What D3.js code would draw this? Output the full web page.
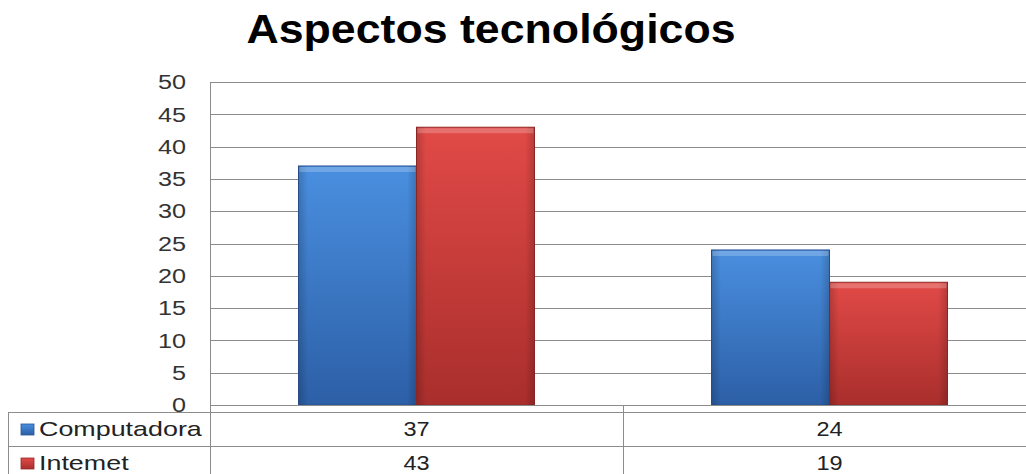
<!DOCTYPE html>
<html>
<head>
<meta charset="utf-8">
<script src="https://cdn.jsdelivr.net/npm/d3@7"></script>
<style>
  body { margin: 0; background: #fff; }
  svg { display: block; font-family: "Liberation Sans", Arial, sans-serif; }
</style>
</head>
<body>
<div class="chart"></div>
<script>
// data
const title = "Aspectos tecnológicos";
const categories = ["A", "B"];
const seriesNames = ["Computadora", "Intemet"];
const computadora = [37, 24];
const internet = [43, 19];
const yTicks = [0, 5, 10, 15, 20, 25, 30, 35, 40, 45, 50];

const seriesValues = [computadora, internet];
const colors = [
  { top: "#4a8fe0", bottom: "#2c5fa6", edge: "#2a5594" },
  { top: "#e14a47", bottom: "#a92e2c", edge: "#962a28" }
];

const width = 1026, height = 474;
const plotLeft = 210, plotRight = 1036, plotTop = 82, plotBottom = 405;
const tableTop = 412, rowH = 34, tableLeft = 8;

const svg = d3.select(".chart").append("svg")
    .attr("width", width)
    .attr("height", height);

// the original picture is a bit stretched sideways, so texts get a horizontal scale
const stretched = (sel, x, y, sx) =>
  sel.attr("x", 0).attr("y", 0).attr("transform", `translate(${x},${y}) scale(${sx},1)`);

const defs = svg.append("defs");
colors.forEach((c, i) => {
  const g = defs.append("linearGradient")
      .attr("id", "grad" + i)
      .attr("x1", 0).attr("y1", 0).attr("x2", 0).attr("y2", 1);
  g.append("stop").attr("offset", "0%").attr("stop-color", c.top);
  g.append("stop").attr("offset", "100%").attr("stop-color", c.bottom);
  const h = defs.append("linearGradient")
      .attr("id", "side" + i)
      .attr("x1", 0).attr("y1", 0).attr("x2", 1).attr("y2", 0);
  h.append("stop").attr("offset", "0%").attr("stop-color", "#000").attr("stop-opacity", 0.18);
  h.append("stop").attr("offset", "8%").attr("stop-color", "#000").attr("stop-opacity", 0);
  h.append("stop").attr("offset", "92%").attr("stop-color", "#000").attr("stop-opacity", 0);
  h.append("stop").attr("offset", "100%").attr("stop-color", "#000").attr("stop-opacity", 0.18);
});

// title
svg.append("text")
    .attr("text-anchor", "middle")
    .style("font-size", "41px")
    .style("font-weight", "bold")
    .style("fill", "#000")
    .text(title)
    .call(stretched, 491, 43, 1.09);

const y = d3.scaleLinear().domain([0, 50]).range([plotBottom, plotTop]);
const x0 = d3.scaleBand().domain(categories).range([plotLeft, plotRight]).padding(0);
const x1 = d3.scaleBand().domain(seriesNames).range([0, x0.bandwidth()])
    .paddingInner(0).paddingOuter(0.75);

// gridlines
svg.append("g")
  .selectAll("line")
  .data(yTicks)
  .join("line")
    .attr("x1", plotLeft).attr("x2", plotRight)
    .attr("y1", d => Math.round(y(d)) + 0.5)
    .attr("y2", d => Math.round(y(d)) + 0.5)
    .attr("stroke", "#8c8c8c")
    .attr("stroke-width", 1);

// y axis labels
const yAxis = d3.axisLeft(y).tickValues(yTicks).tickSize(0).tickPadding(24);
const ya = svg.append("g")
    .attr("transform", `translate(${plotLeft},0)`)
    .call(yAxis);
ya.select(".domain").remove();
ya.selectAll("text")
    .style("font-size", "21px")
    .style("font-family", "'Liberation Sans', Arial, sans-serif")
    .style("fill", "#333")
    .attr("x", 0)
    .attr("transform", "translate(-24,0) scale(1.2,1)");

// bars
const groups = svg.append("g")
  .selectAll("g")
  .data(categories)
  .join("g")
    .attr("transform", d => `translate(${x0(d)},0)`);

groups.each(function(cat, ci) {
  const g = d3.select(this);
  seriesNames.forEach((s, si) => {
    const v = seriesValues[si][ci];
    const bx = x1(s), bw = x1.bandwidth();
    const by = y(v), bh = y(0) - y(v);
    g.append("rect")
        .attr("x", bx).attr("y", by).attr("width", bw).attr("height", bh)
        .attr("fill", `url(#grad${si})`)
        .attr("stroke", colors[si].edge)
        .attr("stroke-width", 1);
    g.append("rect")
        .attr("x", bx).attr("y", by).attr("width", bw).attr("height", bh)
        .attr("fill", `url(#side${si})`);
    // bevel highlight along the top
    g.append("rect")
        .attr("x", bx + 1).attr("y", by + 1).attr("width", bw - 2).attr("height", 5)
        .attr("fill", "#fff").attr("opacity", 0.22);
  });
});

// table lines
const lines = svg.append("g").attr("stroke", "#8c8c8c").attr("stroke-width", 1);
lines.append("line").attr("x1", plotLeft + 0.5).attr("x2", plotLeft + 0.5)
    .attr("y1", plotTop).attr("y2", height);
lines.append("line").attr("x1", plotLeft).attr("x2", plotRight)
    .attr("y1", plotBottom + 0.5).attr("y2", plotBottom + 0.5);
lines.append("line").attr("x1", tableLeft).attr("x2", plotRight)
    .attr("y1", tableTop + 0.5).attr("y2", tableTop + 0.5);
lines.append("line").attr("x1", tableLeft).attr("x2", plotRight)
    .attr("y1", tableTop + rowH + 0.5).attr("y2", tableTop + rowH + 0.5);
lines.append("line").attr("x1", tableLeft + 0.5).attr("x2", tableLeft + 0.5)
    .attr("y1", tableTop).attr("y2", height);
categories.slice(1).forEach(c => {
  lines.append("line").attr("x1", x0(c) + 0.5).attr("x2", x0(c) + 0.5)
      .attr("y1", plotBottom).attr("y2", height);
});

// table rows
seriesNames.forEach((s, si) => {
  const rowY = tableTop + si * rowH;
  svg.append("rect")
      .attr("x", 21).attr("y", rowY + 12).attr("width", 13).attr("height", 11)
      .attr("fill", `url(#grad${si})`)
      .attr("stroke", colors[si].edge).attr("stroke-width", 0.8);
  svg.append("text")
      .style("font-size", "21px").style("fill", "#222")
      .text(s)
      .call(stretched, 39, rowY + 24, 1.28);
  categories.forEach((c, ci) => {
    svg.append("text")
        .attr("text-anchor", "middle")
        .style("font-size", "21px").style("fill", "#222")
        .text(seriesValues[si][ci])
        .call(stretched, x0(c) + x0.bandwidth() / 2, rowY + 24, 1.12);
  });
});
</script>
</body>
</html>
